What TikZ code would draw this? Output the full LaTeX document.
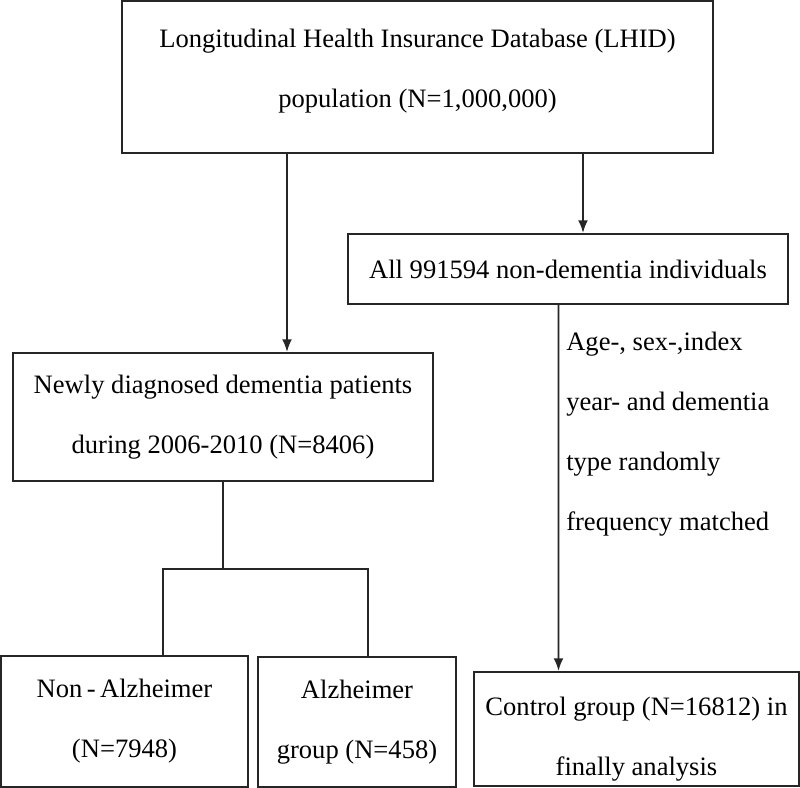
\documentclass[tikz,border=0pt]{standalone}
\usepackage{fontspec}
\setmainfont{Liberation Serif}
\usepackage{tikz}
\usetikzlibrary{calc}
\usetikzlibrary{arrows.meta}

\begin{document}
\begin{tikzpicture}[
 every node/.style={font=\fontsize{18.9}{42.7}\selectfont},
box/.style={rectangle, inner sep=0pt, align=center, draw=black!85, line width=1.4pt},
str/.style={rectangle, inner sep=0pt, align=left},
arrow/.style={-{Latex[length=9pt, width=7pt]}, line width=1.3pt, black!85},
line/.style={line width=1.3pt, black!85}]

\useasboundingbox (0, 0) rectangle (20, -19.7);

\node[box, minimum width=14.775cm, minimum height=3.8cm] (lhid) at (10.4375, -1.925) {Longitudinal Health Insurance Database (LHID)\\population (N=1,000,000)\rule[-13pt]{0pt}{13pt}};

\node[box, minimum width=11cm, minimum height=1.75cm] (nondem) at (14.2, -6.725) {All 991594 non-dementia individuals};
\node[box, minimum width=10.5cm, minimum height=3.2cm] (dem) at (5.575, -10.425) {Newly diagnosed dementia patients\\during 2006-2010 (N=8406)};

\draw ($(lhid.south) + (-3.2625, 0)$) edge[arrow] ($(dem.north) + (1.6, 0)$);
\draw ($(lhid.south) + (4.1375, 0)$) edge[arrow] ($(nondem.north) + (0.375, 0)$);

\node[box, minimum width=6.175cm, minimum height=3.275cm] (nonalz) at (3.1125, -18.0375) {Non\,-\,Alzheimer\\(N=7948)};
\node[box, minimum width=4.95cm, minimum height=3.25cm] (alz) at (8.925, -18.05) {Alzheimer\\group (N=458)};
\node[box, minimum width=8.125cm, minimum height=2.85cm] (ctrl) at (15.9125, -18.225) {\rule{0pt}{28pt}Control group (N=16812) in\\finally analysis};

% split into the two dementia groups
\draw[line] (dem.south) -- ++(0, -2.175) coordinate (split);
\draw[line] ($(nonalz.north) + (0.9625, 0)$) |- (split) -| ($(alz.north) + (0.275, 0)$);

\draw ($(nondem.south) + (-0.2375, 0)$) edge[arrow] ($(ctrl.north) + (-1.95, 0)$);
\node[str, anchor=north west] (match) at (14.15, -8.3) {Age-, sex-,index\\year- and dementia\\type randomly\\frequency matched};

\end{tikzpicture}
\end{document}
